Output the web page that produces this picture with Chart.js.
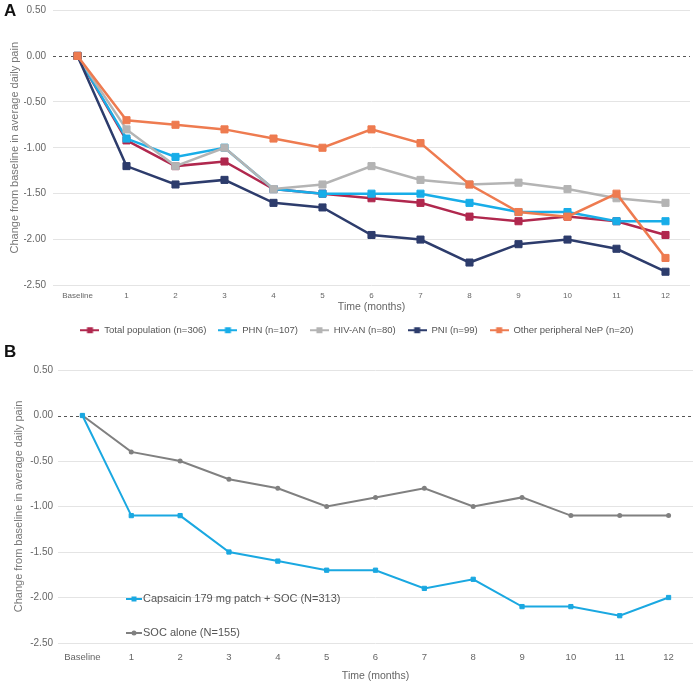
<!DOCTYPE html>
<html>
<head>
<meta charset="utf-8">
<script src="https://cdn.jsdelivr.net/npm/chart.js@4.4.1/dist/chart.umd.min.js"></script>
<style>
  body { margin: 0; background: #fff; width: 698px; height: 684px; position: relative; overflow: hidden; }
  .panel { position: absolute; left: 0; width: 698px; }
  .letter { position: absolute; left: 4px; font: bold 17px 'Liberation Sans', Arial, sans-serif; color: #111; z-index: 2; }
</style>
</head>
<body>
<div class="panel" style="top:-3px; height:348px"><canvas id="chartA"></canvas></div>
<div class="panel" style="top:345px; height:339px"><canvas id="chartB"></canvas></div>
<div class="letter" style="top:1px">A</div>
<div class="letter" style="top:342px">B</div>
<script>
// x axis categories (shared by both panels)
const months = ['Baseline', '1', '2', '3', '4', '5', '6', '7', '8', '9', '10', '11', '12'];
const yTicks = [0.5, 0, -0.5, -1, -1.5, -2, -2.5];

// Panel A - change from baseline by subgroup
const totalPop = [0, -0.92, -1.2, -1.15, -1.45, -1.5, -1.55, -1.6, -1.75, -1.8, -1.75, -1.8, -1.95];
const phn      = [0, -0.9, -1.1, -1.0, -1.45, -1.5, -1.5, -1.5, -1.6, -1.7, -1.7, -1.8, -1.8];
const hivAn    = [0, -0.8, -1.2, -1.0, -1.45, -1.4, -1.2, -1.35, -1.4, -1.38, -1.45, -1.55, -1.6];
const pni      = [0, -1.2, -1.4, -1.35, -1.6, -1.65, -1.95, -2.0, -2.25, -2.05, -2.0, -2.1, -2.35];
const otherNeP = [0, -0.7, -0.75, -0.8, -0.9, -1.0, -0.8, -0.95, -1.4, -1.7, -1.75, -1.5, -2.2];

// Panel B - capsaicin patch vs standard of care
const capsaicin = [0, -1.1, -1.1, -1.5, -1.6, -1.7, -1.7, -1.9, -1.8, -2.1, -2.1, -2.2, -2.0];
const socAlone  = [0, -0.4, -0.5, -0.7, -0.8, -1.0, -0.9, -0.8, -1.0, -0.9, -1.1, -1.1, -1.1];

const FONT = "'Liberation Sans', Arial, Helvetica, sans-serif";
Chart.defaults.font.family = FONT;
Chart.defaults.color = '#666';
Chart.defaults.animation = false;

// dashed line at zero instead of the normal grid line
const zeroLine = {
  id: 'zeroLine',
  beforeDatasetsDraw(chart) {
    const { ctx, chartArea, scales } = chart;
    const y = Math.round(scales.y.getPixelForValue(0)) + 0.5;
    ctx.save();
    ctx.strokeStyle = '#555';
    ctx.lineWidth = 1;
    ctx.setLineDash([3, 3]);
    ctx.beginPath();
    ctx.moveTo(chartArea.left, y);
    ctx.lineTo(chartArea.right, y);
    ctx.stroke();
    ctx.restore();
  }
};

// small legend glyph: line with a square in the middle
function legendGlyph(color) {
  const c = document.createElement('canvas');
  c.width = 19; c.height = 8;
  const g = c.getContext('2d');
  g.strokeStyle = color; g.lineWidth = 2;
  g.beginPath(); g.moveTo(0, 4); g.lineTo(19, 4); g.stroke();
  g.fillStyle = color;
  g.fillRect(6.5, 1, 6, 6);
  return c;
}

function yAxis(width, tickPad, titlePad) {
  return {
    min: -2.5, max: 0.5,
    afterFit(scale) { scale.width = width; },
    afterBuildTicks(scale) { scale.ticks = yTicks.map(v => ({ value: v })); },
    ticks: { padding: tickPad, color: '#666', font: { size: 10 }, callback: v => Number(v).toFixed(2) },
    grid: {
      drawTicks: false,
      color: ctx => (ctx.tick && ctx.tick.value === 0) ? 'rgba(0,0,0,0)' : '#e4e4e4'
    },
    border: { display: false },
    title: {
      display: true, text: 'Change from baseline in average daily pain',
      color: '#777', font: { size: 11 }, padding: { top: titlePad, bottom: 0 }
    }
  };
}

const colorsA = ['#b0284e', '#18ade8', '#b4b4b4', '#2d3c6c', '#ee7b50'];
const labelsA = ['Total population (n=306)', 'PHN (n=107)', 'HIV-AN (n=80)', 'PNI (n=99)', 'Other peripheral NeP (n=20)'];
const seriesA = [totalPop, phn, hivAn, pni, otherNeP];
const orderA = [5, 4, 3, 2, 1];

new Chart(document.getElementById('chartA'), {
  type: 'line',
  data: {
    labels: months,
    datasets: seriesA.map((d, i) => ({
      label: labelsA[i],
      data: d,
      order: orderA[i],
      borderColor: colorsA[i],
      backgroundColor: colorsA[i],
      borderWidth: 2.5,
      pointStyle: 'rect',
      pointRadius: 5,
      pointBorderWidth: 1,
      pointBorderColor: colorsA[i],
      tension: 0
    }))
  },
  options: {
    responsive: true,
    maintainAspectRatio: false,
    layout: { padding: { left: 24, right: 8, top: 7, bottom: 0 } },
    scales: {
      x: {
        offset: true,
        afterFit(scale) { scale.height = 28; },
        grid: { display: false, drawTicks: false },
        border: { display: false },
        ticks: { padding: 5, maxRotation: 0, autoSkip: false, color: '#666', font: { size: 8 } },
        title: { display: true, text: 'Time (months)', color: '#666', font: { size: 10.5 }, padding: { top: 2, bottom: 0 } }
      },
      y: yAxis(29, 7, -16)
    },
    plugins: {
      tooltip: { enabled: false },
      legend: {
        position: 'bottom',
        labels: {
          usePointStyle: true,
          pointStyleWidth: 19,
          boxHeight: 8,
          padding: 12,
          color: '#555',
          font: { size: 9.5 },
          sort: (a, b) => a.datasetIndex - b.datasetIndex,
          generateLabels(chart) {
            const items = Chart.defaults.plugins.legend.labels.generateLabels(chart);
            items.forEach(it => { it.pointStyle = legendGlyph(colorsA[it.datasetIndex]); });
            return items;
          }
        }
      }
    }
  },
  plugins: [zeroLine]
});

// legend for panel B, drawn inside the plot area at lower left
const insideLegend = {
  id: 'insideLegend',
  afterDatasetsDraw(chart) {
    const { ctx, chartArea } = chart;
    ctx.save();
    chart.data.datasets.forEach((ds, i) => {
      const x = chartArea.left + 68;
      const y = chartArea.bottom - 44 + i * 34;
      ctx.strokeStyle = ds.borderColor;
      ctx.lineWidth = 2;
      ctx.beginPath(); ctx.moveTo(x, y); ctx.lineTo(x + 16, y); ctx.stroke();
      ctx.fillStyle = ds.borderColor;
      if (ds.pointStyle === 'rect') {
        ctx.fillRect(x + 5.5, y - 2.5, 5, 5);
      } else {
        ctx.beginPath(); ctx.arc(x + 8, y, 2.5, 0, Math.PI * 2); ctx.fill();
      }
      ctx.fillStyle = '#555';
      ctx.font = '11px ' + FONT;
      ctx.textBaseline = 'middle';
      ctx.fillText(ds.label, x + 17, y);
    });
    ctx.restore();
  }
};

new Chart(document.getElementById('chartB'), {
  type: 'line',
  data: {
    labels: months,
    datasets: [
      {
        label: 'Capsaicin 179 mg patch + SOC (N=313)',
        data: capsaicin,
        borderColor: '#1aa8e1', backgroundColor: '#1aa8e1',
        borderWidth: 2, pointStyle: 'rect', pointRadius: 3, pointBorderWidth: 1, tension: 0
      },
      {
        label: 'SOC alone (N=155)',
        data: socAlone,
        borderColor: '#808080', backgroundColor: '#808080',
        borderWidth: 2, pointStyle: 'circle', pointRadius: 2.5, pointBorderWidth: 0, tension: 0
      }
    ]
  },
  options: {
    responsive: true,
    maintainAspectRatio: false,
    layout: { padding: { left: 0, right: 3, top: 25, bottom: 0 } },
    scales: {
      x: {
        offset: true,
        afterFit(scale) { scale.height = 41; },
        grid: { display: false, drawTicks: false },
        border: { display: false },
        ticks: { padding: 9, maxRotation: 0, autoSkip: false, color: '#666', font: { size: 9.5 } },
        title: { display: true, text: 'Time (months)', color: '#666', font: { size: 10.5 }, padding: { top: 2, bottom: 2 } }
      },
      y: yAxis(58, 5, 12)
    },
    plugins: {
      tooltip: { enabled: false },
      legend: { display: false }
    }
  },
  plugins: [zeroLine, insideLegend]
});
</script>
</body>
</html>
